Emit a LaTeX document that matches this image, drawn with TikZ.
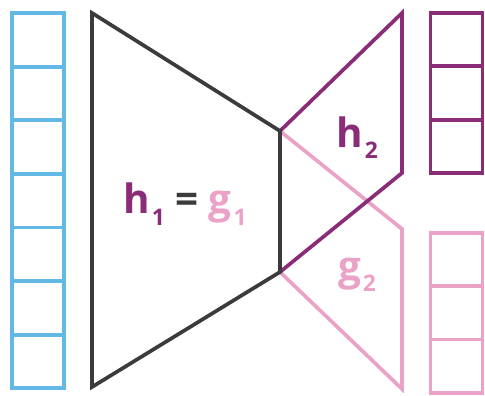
\documentclass[tikz,border=0pt]{standalone}
\usepackage{fontspec}
\newfontfamily\labelfont{Open Sans}
\usepackage{tikz}

\definecolor{inblue}{HTML}{62B9E6}
\definecolor{hpurple}{HTML}{8A2C78}
\definecolor{gpink}{HTML}{EAA3C6}
\definecolor{encgray}{HTML}{3B3A3D}

\newcommand{\lowidx}[1]{\kern0.05em\raisebox{-0.5ex}{\fontsize{13}{13}\selectfont #1}}

\tikzset{
    cell/.style={draw=#1, rectangle, minimum width=1.04cm, minimum height=1.07cm,
        inner sep=0pt, outer sep=0pt},
    lbl/.style={font=\labelfont\bfseries\fontsize{23}{25}\selectfont, anchor=base, inner sep=0pt}
}

\begin{document}
\begin{tikzpicture}[x=0.02cm, y=-0.02cm, line width=2.1pt]
    \useasboundingbox (0,0) rectangle (485,396);
    % input and the two outputs
    \foreach \i in {0,...,6} {
        \node[cell=inblue] (in\i) at (38,39.8+53.6*\i) {};
    }
    \foreach \i in {0,1,2} {
        \node[cell=hpurple] (h\i) at (456.5,39.7+53.3*\i) {};
        \node[cell=gpink] (g\i) at (456.5,259.5+53.3*\i) {};
    }
    % encoder and the two heads
    \coordinate (top) at (280,131);
    \coordinate (bot) at (280,272);
    \draw[gpink] (top) -- (402,229) -- (402,389) -- (bot);
    \draw[hpurple] (top) -- (402,13) -- (402,173) -- (bot);
    \draw[encgray] (92,13) -- (top) -- (bot) -- (92,387) -- cycle;
    \node[lbl] (enc) at (185,214) {\textcolor{hpurple}{h\lowidx{1}} \textcolor{encgray}{=} \textcolor{gpink}{g\lowidx{1}}};
    \node[lbl, text=hpurple] (hlab) at (357,147) {h\lowidx{2}};
    \node[lbl, text=gpink] (glab) at (357,280) {g\lowidx{2}};
\end{tikzpicture}
\end{document}
